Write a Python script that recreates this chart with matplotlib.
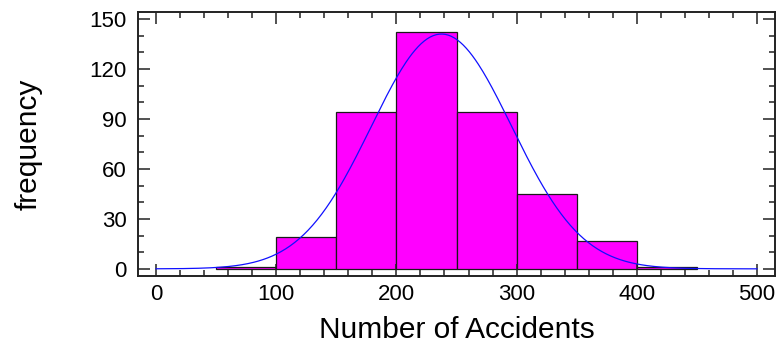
import numpy as np
import matplotlib
matplotlib.use("Agg")
import matplotlib.pyplot as plt
from matplotlib.ticker import MultipleLocator

# histogram bins and counts
bin_edges = [50, 100, 150, 200, 250, 300, 350, 400, 450]
counts = [1, 19, 94, 142, 94, 45, 17, 1]

# fitted normal curve parameters
fit_mean = 237.5
fit_sd = 58.4
n_total = sum(counts)
bin_width = 50

plt.rcParams['font.family'] = ['Liberation Sans', 'DejaVu Sans']

fig = plt.figure(figsize=(7.77, 3.49), dpi=100)
ax = fig.add_axes([138 / 777, 1 - 276 / 349, (775 - 138) / 777, (276 - 12) / 349])

lefts = bin_edges[:-1]
widths = np.diff(bin_edges)
ax.bar(lefts, counts, width=widths, align='edge', color='#ff00ff',
       edgecolor='#1a1a1a', linewidth=0.9)

xs = np.linspace(0, 500, 400)
ys = n_total * bin_width / (fit_sd * np.sqrt(2 * np.pi)) * np.exp(-0.5 * ((xs - fit_mean) / fit_sd) ** 2)
ax.plot(xs, ys, color='#1010ff', linewidth=0.9)

ax.set_xlim(-15, 515)
ax.set_ylim(-4.3, 154.3)
ax.xaxis.set_major_locator(MultipleLocator(100))
ax.xaxis.set_minor_locator(MultipleLocator(20))
ax.yaxis.set_major_locator(MultipleLocator(30))
ax.yaxis.set_minor_locator(MultipleLocator(10))
ax.tick_params(which='both', direction='in', top=True, right=True,
               labelsize=16, width=1.1, color='#222222')
ax.tick_params(which='major', length=8.5)
ax.tick_params(axis='x', which='major', pad=6)
ax.tick_params(axis='y', which='major', pad=8)
ax.tick_params(which='minor', length=4.5)
for s in ax.spines.values():
    s.set_linewidth(1.4)
    s.set_color('#222222')

ax.set_xlabel('Number of Accidents', fontsize=21.5, labelpad=8)
ax.set_ylabel('frequency', fontsize=21.5, labelpad=34)

fig.savefig('out.png', dpi=100)
